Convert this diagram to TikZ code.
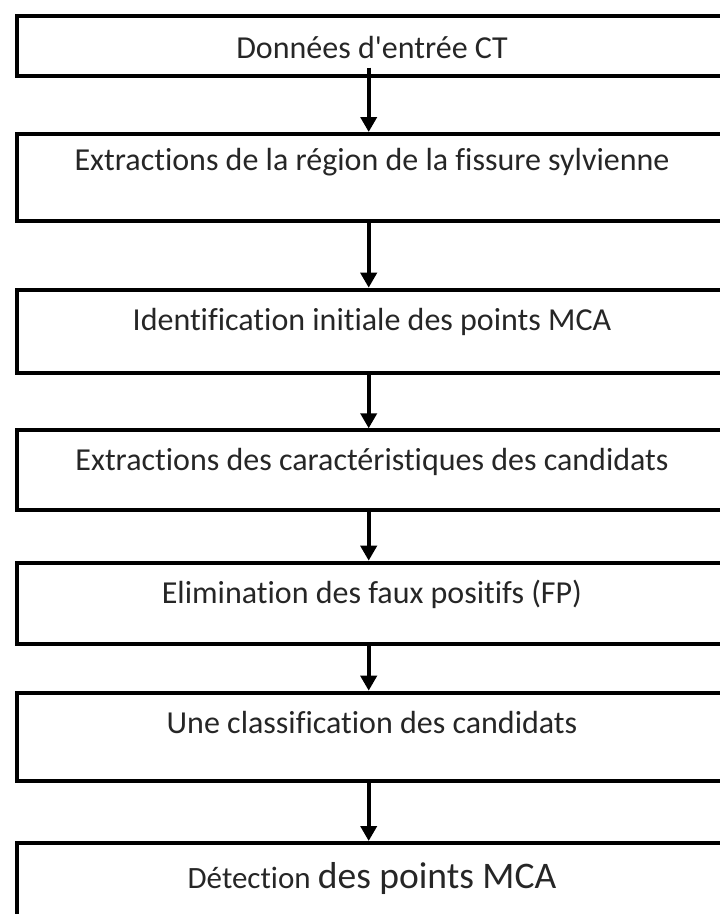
\documentclass[tikz,border=0pt]{standalone}
\usepackage{fontspec}
\setmainfont{Carlito}[Ligatures={NoCommon}]
\usetikzlibrary{arrows.meta}
\tikzset{
  stepbox/.style={draw=black, line width=4pt, rectangle, inner sep=0pt, anchor=north west},
  steptext/.style={anchor=base, inner sep=0pt, text=black!85, font=\fontsize{32}{36}\selectfont},
  flow/.style={draw=black, line width=4pt, -{Triangle[length=15pt,width=16pt]}}
}
\begin{document}
\begin{tikzpicture}[x=1pt,y=-1pt]
\useasboundingbox (0,0) rectangle (720,914);
% boxes
\node[stepbox, minimum width=713.5pt, minimum height=60pt] (b1) at (14.5,13.7) {};
\node[stepbox, minimum width=713.5pt, minimum height=87pt] (b2) at (14.5,132) {};
\node[stepbox, minimum width=713.5pt, minimum height=83pt] (b3) at (14.5,287.7) {};
\node[stepbox, minimum width=713.5pt, minimum height=80pt] (b4) at (14.5,428.3) {};
\node[stepbox, minimum width=713.5pt, minimum height=81.6pt] (b5) at (14.5,560.7) {};
\node[stepbox, minimum width=713.5pt, minimum height=88.6pt] (b6) at (14.5,690.7) {};
\node[stepbox, minimum width=713.5pt, minimum height=90pt] (b7) at (14.5,841) {};
% texts
\node[steptext] (t1) at (372,58.3) {Données d\textquotesingle entrée CT};
\node[steptext] (t2) at (372,170) {Extractions de la région de la fissure sylvienne};
\node[steptext] (t3) at (372,330) {Identification initiale des points MCA};
\node[steptext] (t4) at (372,470) {Extractions des caractéristiques des candidats};
\node[steptext] (t5) at (372,603.3) {Elimination des faux positifs (FP)};
\node[steptext] (t6) at (372,733.3) {Une classification des candidats};
\node[steptext] (t7) at (372,888.3) {{\fontsize{31}{36}\selectfont Détection} {\fontsize{37.5}{42}\selectfont des points MCA}};
% arrows
\coordinate (a1) at (368.7,73.7);
\draw[flow, shorten <=-6pt] (a1) -- (a1 |- b2.north);
\coordinate (a2) at (368.7,219);
\draw[flow] (a2) -- (a2 |- b3.north);
\draw[flow] (a2 |- b3.south) -- (a2 |- b4.north);
\draw[flow] (a2 |- b4.south) -- (a2 |- b5.north);
\draw[flow] (a2 |- b5.south) -- (a2 |- b6.north);
\draw[flow] (a2 |- b6.south) -- (a2 |- b7.north);
\end{tikzpicture}
\end{document}
